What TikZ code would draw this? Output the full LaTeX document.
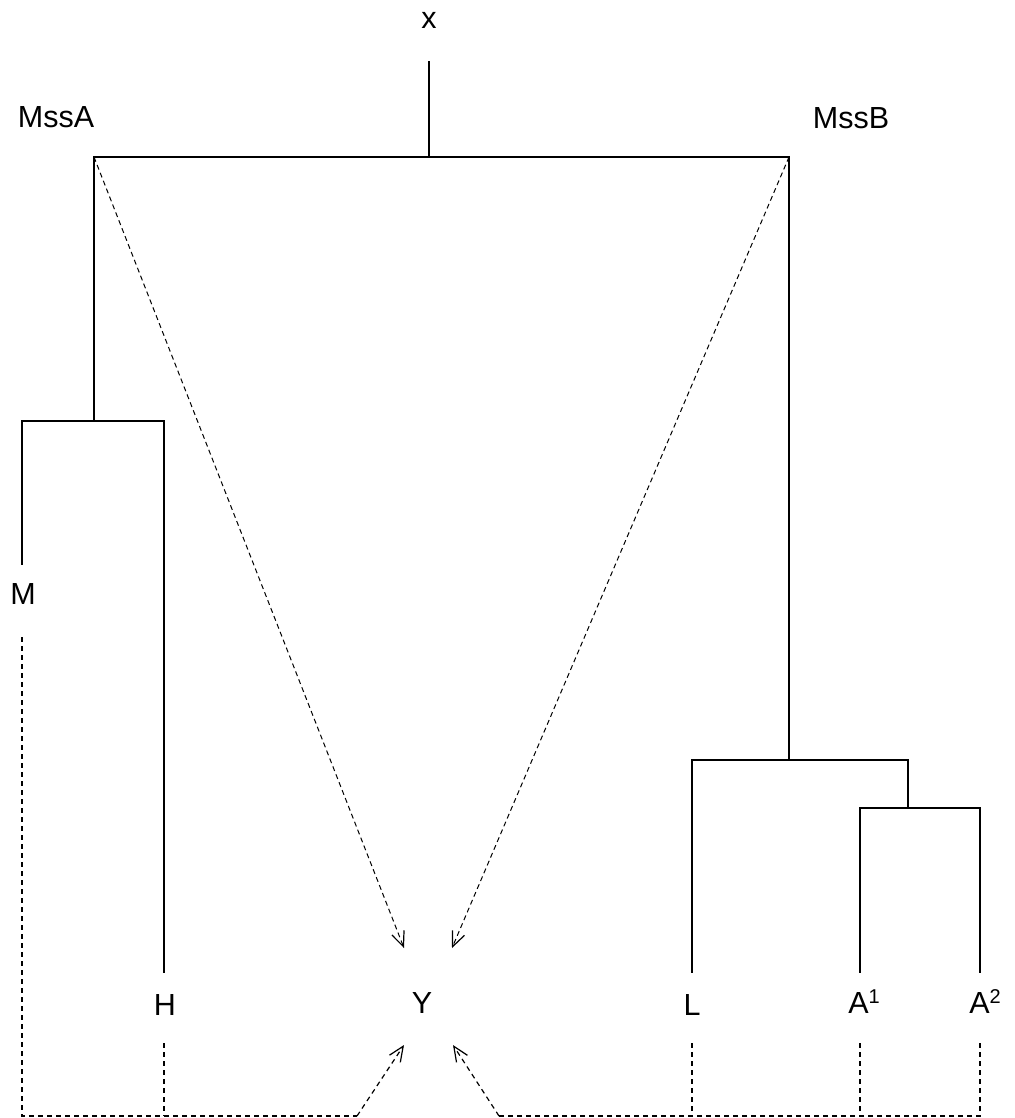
\documentclass[tikz,border=0pt]{standalone}
\usepackage{fontspec}
\setmainfont{Liberation Sans}
\usetikzlibrary{arrows.meta}
\newcommand{\supdigit}[1]{\raisebox{10pt}{\fontsize{20}{20}\selectfont #1}}
\begin{document}
\begin{tikzpicture}[x=1pt,y=-1pt,
  lbl/.style={inner sep=0pt,anchor=base,font=\fontsize{30.5}{32}\selectfont},
  tree/.style={line width=1.4pt,line cap=rect},
  dashline/.style={line width=1.2pt,dash pattern=on 5pt off 4pt},
  thindash/.style={line width=1pt,dash pattern=on 5pt off 3.5pt},
  arr/.style={-{Straight Barb[length=15pt,width=13pt,line width=1.2pt]}}]
\useasboundingbox (0,0) rectangle (1014,1118);
% labels
\node[lbl] (x) at (429,29) {x};
\node[lbl] (MssA) at (56,128) {MssA};
\node[lbl] (MssB) at (851,129) {MssB};
\node[lbl] (M) at (23,604) {M};
\node[lbl] (H) at (165,1015) {H};
\node[lbl] (Y) at (422,1013) {Y};
\node[lbl] (L) at (692,1015) {L};
\node[lbl] (A1) at (864,1013) {A\supdigit{1}};
\node[lbl] (A2) at (985,1013) {A\supdigit{2}};
% coordinates
\coordinate (top) at (429,62);
\coordinate (root) at (429,157);
\coordinate (a) at (94,157);
\coordinate (b) at (789,157);
\coordinate (a2) at (94,421);
\coordinate (mT) at (22,421);
\coordinate (hT) at (164,421);
\coordinate (mE) at (22,564);
\coordinate (hE) at (164,972);
\coordinate (b2) at (789,760);
\coordinate (lT) at (692,760);
\coordinate (c) at (908,760);
\coordinate (c2) at (908,808);
\coordinate (p1T) at (860,808);
\coordinate (p2T) at (980,808);
\coordinate (lE) at (692,972);
\coordinate (p1E) at (860,972);
\coordinate (p2E) at (980,972);
\coordinate (mD) at (22,637);
\coordinate (hD) at (164,1043);
\coordinate (lD) at (692,1043);
\coordinate (p1D) at (860,1043);
\coordinate (p2D) at (980,1043);
\coordinate (mB) at (22,1116);
\coordinate (hB) at (164,1116);
\coordinate (lB) at (692,1116);
\coordinate (p1B) at (860,1116);
\coordinate (p2B) at (980,1116);
\coordinate (sl) at (357,1116);
\coordinate (sr) at (499,1116);
\coordinate (tl) at (404,1045);
\coordinate (tr) at (453,1045);
\coordinate (ul) at (404,948);
\coordinate (ur) at (452,948);
% tree
\draw[tree] (top) -- (root);
\draw[tree] (a) -- (b);
\draw[tree] (a) -- (a2);
\draw[tree] (mT) -- (hT);
\draw[tree] (mT) -- (mE);
\draw[tree] (hT) -- (hE);
\draw[tree] (b) -- (b2);
\draw[tree] (lT) -- (c);
\draw[tree] (lT) -- (lE);
\draw[tree] (c) -- (c2);
\draw[tree] (p1T) -- (p2T);
\draw[tree] (p1T) -- (p1E);
\draw[tree] (p2T) -- (p2E);
% dashed arrows from top
\draw[thindash,arr] (a) -- (ul);
\draw[thindash,arr] (b) -- (ur);
% dashed bottom
\draw[dashline] (mD) -- (mB) -- (sl);
\draw[dashline,arr] (sl) -- (tl);
\draw[dashline] (hD) -- (hB);
\draw[dashline] (p2D) -- (p2B) -- (sr);
\draw[dashline,arr] (sr) -- (tr);
\draw[dashline] (lD) -- (lB);
\draw[dashline] (p1D) -- (p1B);
\end{tikzpicture}
\end{document}
